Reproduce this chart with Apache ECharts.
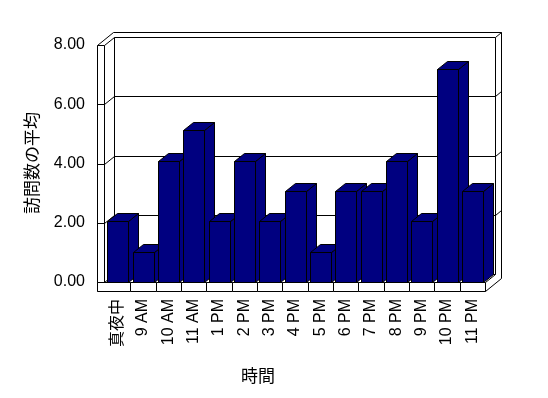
<!DOCTYPE html>
<html>
<head>
<meta charset="utf-8">
<script src="https://cdn.jsdelivr.net/npm/echarts@6/dist/echarts.min.js"></script>
<style>
html,body{margin:0;padding:0;background:#fff;}
#chart{width:548px;height:398px;}
</style>
</head>
<body>
<div id="chart"></div>
<script>
const categories = ['真夜中','9 AM','10 AM','11 AM','1 PM','2 PM','3 PM','4 PM','5 PM','6 PM','7 PM','8 PM','9 PM','10 PM','11 PM'];
const visits = [2,1,4,5,2,4,2,3,1,3,3,4,2,7,3];
const yTicks = [0,2,4,6,8];
const yAxisName = '訪問数の平均';
const xAxisName = '時間';

const FONT = "'Liberation Sans', 'Noto Sans CJK JP', sans-serif";
const BAR_COLOR = '#000080';
const LINE = {stroke:'#000', lineWidth:1, fill:null};
const p = v => Math.round(v) + 0.5;

function seg(x1,y1,x2,y2){
  return {type:'line', shape:{x1:p(x1),y1:p(y1),x2:p(x2),y2:p(y2)}, style:LINE, silent:true};
}

function renderWalls(params, api){
  const v = api.value(1);
  const f = api.coord([0, v]);
  const r = api.coord([1, v]);
  const xL = f[0], yf = f[1], xR = r[0];
  const wallW = 7, dX = 10, dY = -8, tX = 6, tY = -5;
  const yb = yf + dY;
  const backL = xL + wallW + dX, backR = xR + dX;
  const children = [];
  children.push(seg(xL, yf, xL + wallW, yf));
  children.push(seg(xL + wallW, yf, backL, yb));
  children.push(seg(backL, yb, backR, yb));
  if (v > 0) children.push(seg(backR, yb, backR + tX, yb + tY));
  if (params.dataIndex === 0) {
    const top = api.coord([0, 8])[1];
    const floorB = yf + 9;
    children.push(seg(xL, top, xL, floorB));
    children.push(seg(xL + wallW, top, xL + wallW, yf));
    children.push(seg(xL, top, backL - 1, top + dY + tY));
    children.push(seg(backL - 1, top + dY + tY, backR + tX, top + dY + tY));
    children.push(seg(backR + tX, top + dY + tY, backR + tX, yf + dY + 4));
    children.push(seg(backL, top + dY, backL, yb));
    children.push(seg(backR, top + dY, backR, yb));
  }
  return {type:'group', children};
}

function renderBars(params, api){
  const i = api.value(0), v = api.value(1);
  const c = api.coord([i, v]);
  const z = api.coord([i, 0]);
  const bw = api.size([1, 0])[0];
  const xl = p(c[0] - bw * 0.41), xr = p(c[0] + bw * 0.42);
  const yt = p(c[1]), y0 = p(z[1]);
  const dX = 10, dY = -8;
  const st = {fill:BAR_COLOR, stroke:'#000', lineWidth:1};
  return {type:'group', children:[
    {type:'polygon', shape:{points:[[xr,yt],[xr+dX,yt+dY],[xr+dX,y0+dY],[xr,y0]]}, style:st},
    {type:'polygon', shape:{points:[[xl,yt],[xl+dX,yt+dY],[xr+dX,yt+dY],[xr,yt]]}, style:st},
    {type:'rect', shape:{x:xl, y:yt, width:xr-xl, height:y0-yt}, style:st}
  ]};
}

function renderFloor(params, api){
  const i = api.value(0);
  const n = categories.length;
  const z = api.coord([i, 0]);
  const bw = api.size([1, 0])[0];
  let x1 = z[0] - bw / 2;
  const x2 = z[0] + bw / 2;
  if (i === 0) x1 -= 8;
  const y0 = z[1];
  const children = [
    {type:'rect', shape:{x:p(x1), y:p(y0), width:Math.round(x2)-Math.round(x1), height:9}, style:{fill:'#fff', stroke:'#000', lineWidth:1}}
  ];
  if (i === n - 1) {
    children.push(seg(x2, y0 + 9, x2 + 16, y0 - 4));
    children.push(seg(x2, y0, x2 + 10, y0 - 8));
  }
  return {type:'group', children};
}

const chart = echarts.init(document.getElementById('chart'), null, {renderer:'canvas'});
chart.setOption({
  backgroundColor:'#fff',
  animation:false,
  grid:[
    {left:97, top:45, width:388, height:237},
    {left:105, top:39, width:380, height:243}
  ],
  xAxis:[
    {type:'value', gridIndex:0, min:0, max:1, show:false},
    {type:'category', gridIndex:1, data:categories,
     axisLine:{show:false}, axisTick:{show:false},
     axisLabel:{rotate:90, margin:17, fontSize:16, color:'#000', fontFamily:FONT, interval:0}}
  ],
  yAxis:[
    {type:'value', gridIndex:0, min:0, max:8, interval:2,
     axisLine:{show:false}, axisTick:{show:false}, splitLine:{show:false},
     axisLabel:{formatter:v => v.toFixed(2), margin:12, fontSize:16, color:'#000', fontFamily:FONT}},
    {type:'value', gridIndex:1, min:0, max:8, show:false}
  ],
  series:[
    {type:'custom', xAxisIndex:0, yAxisIndex:0, z:1, silent:true,
     data:yTicks.map(v => [0, v]), renderItem:renderWalls},
    {type:'custom', xAxisIndex:1, yAxisIndex:1, z:2,
     data:visits.map((v,i) => [i, v]), renderItem:renderBars},
    {type:'custom', xAxisIndex:1, yAxisIndex:1, z:3, silent:true,
     data:categories.map((c,i) => [i, 0]), renderItem:renderFloor}
  ],
  graphic:[
    {type:'text', x:258, y:376, style:{text:xAxisName, font:"17px 'Noto Sans CJK JP'", fill:'#000', align:'center', verticalAlign:'middle'}},
    {type:'text', x:32, y:163, rotation:Math.PI/2, style:{text:yAxisName, font:"17px 'Noto Sans CJK JP'", fill:'#000', align:'center', verticalAlign:'middle'}}
  ]
});
</script>
</body>
</html>
